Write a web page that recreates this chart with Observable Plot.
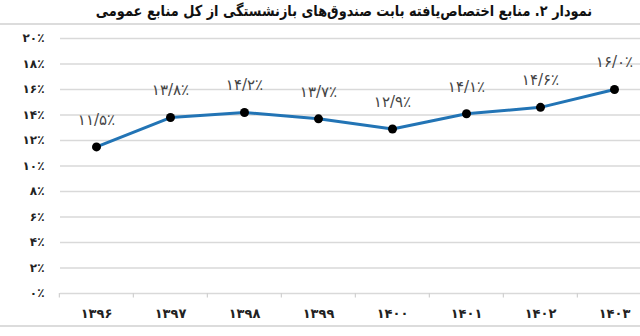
<!DOCTYPE html>
<html><head><meta charset="utf-8">
<script src="https://cdn.jsdelivr.net/npm/d3@7"></script>
<script src="https://cdn.jsdelivr.net/npm/@observablehq/plot@0.6"></script>
<style>
body{margin:0;background:#fff;font-family:"DejaVu Sans",sans-serif;}
#title{height:23px;border-bottom:2px solid #dcdcdc;width:640px;overflow:hidden;position:relative;}
#title span{position:absolute;left:344px;top:2px;transform:translateX(-50%) scaleX(0.86);direction:rtl;font-weight:bold;font-size:15px;line-height:18px;color:#111;white-space:nowrap;}
#chart{border-bottom:2px solid #dcdcdc;width:640px;height:300px;}
#chart svg{display:block;}
</style></head><body>
<div id="title"><span>نمودار ۲. منابع اختصاص‌یافته بابت صندوق‌های بازنشستگی از کل منابع عمومی</span></div>
<div id="chart"></div>
<script>
const years = ["۱۳۹۶", "۱۳۹۷", "۱۳۹۸", "۱۳۹۹", "۱۴۰۰", "۱۴۰۱", "۱۴۰۲", "۱۴۰۳"];
const values = [11.5, 13.8, 14.2, 13.7, 12.9, 14.1, 14.6, 16.0];
const valueLabels = ["۱۱/۵٪", "۱۳/۸٪", "۱۴/۲٪", "۱۳/۷٪", "۱۲/۹٪", "۱۴/۱٪", "۱۴/۶٪", "۱۶/۰٪"];
const yTicks = [0, 2, 4, 6, 8, 10, 12, 14, 16, 18, 20];
const yTickLabels = ["۰٪", "۲٪", "۴٪", "۶٪", "۸٪", "۱۰٪", "۱۲٪", "۱۴٪", "۱۶٪", "۱۸٪", "۲۰٪"];

const data = years.map((year, i) => ({year, value: values[i], label: valueLabels[i]}));
const step = (615 - 95) / (years.length - 1);

const chart = Plot.plot({
  width: 640, height: 300,
  marginLeft: 60, marginRight: 0, marginTop: 13, marginBottom: 32,
  style: {fontFamily: "DejaVu Sans", background: "#fff", overflow: "hidden"},
  x: {type: "point", domain: years, range: [95, 615], padding: 0},
  y: {domain: [0, 20]},
  marks: [
    Plot.gridY(yTicks, {stroke: "#d9d9d9", strokeOpacity: 1, strokeWidth: 1.5}),
    Plot.ruleX(years, {x: d => d, y1: 0, y2: -0.35, dx: -step / 2, stroke: "#d0d0d0", strokeWidth: 1.2}),
    Plot.axisY(yTicks, {tickFormat: d => yTickLabels[yTicks.indexOf(d)], tickSize: 0, tickPadding: 16, fontWeight: "bold", fontSize: 12, fill: "#222", label: null}),
    Plot.axisX({tickSize: 0, tickPadding: 15, fontWeight: "bold", fontSize: 13, fill: "#222", label: null}),
    Plot.line(data, {x: "year", y: "value", stroke: "#2274b5", strokeWidth: 3}),
    Plot.dot(data, {x: "year", y: "value", r: 4.5, fill: "#000"}),
    Plot.text(data, {x: "year", y: "value", text: "label", dy: -27, fontSize: 15, fill: "#444"})
  ]
});
document.getElementById("chart").appendChild(chart);
</script>
</body></html>
